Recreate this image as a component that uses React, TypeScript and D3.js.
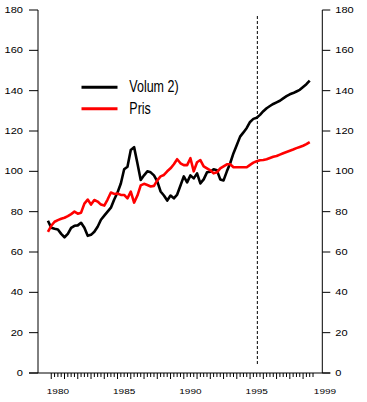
import React from 'react';
import * as d3 from 'd3';

const W = 367;
const H = 402;

// quarterly series, first quarter is 1979 Q4
const firstQuarter = 1979.75;
const volum = [
  75.5, 72, 71.5, 71.2, 69, 67.3, 69, 72, 73, 73.2,
  74.5, 72, 68, 68.5, 70, 72.5, 76, 78, 80, 82,
  86, 89.5, 94, 101, 102.3, 110.6, 112, 104, 95.7, 98,
  100, 99.5, 98, 95, 90, 88, 85.5, 88, 86.6, 88.5,
  93, 97.5, 94.5, 98, 96.5, 99, 94, 96, 99.5, 99.8,
  101, 100.5, 96, 95.5, 100, 104, 109, 113, 117.2, 119.3,
  121.5, 124.5, 126, 126.6, 128, 129.8, 131.3, 132.4, 133.4, 134.2,
  135, 136.2, 137.3, 138.2, 138.8, 139.6, 140.4, 141.8, 143.2, 145,
];
const pris = [
  70, 73, 75, 75.8, 76.5, 77, 77.8, 78.8, 80, 79,
  79.5, 84, 86, 83.5, 85.8, 85, 83.5, 83, 86, 89.5,
  88.8, 89, 88.3, 88.3, 86.6, 89.9, 84.5, 88, 93, 93.8,
  93.2, 92.5, 92.8, 95.5, 97.5, 98.2, 100, 101.5, 103.5, 106,
  104, 103.1, 103.1, 106.5, 100, 104.5, 105.6, 102.5, 101.5, 100.5,
  99, 99.5, 101.5, 102.5, 103.5, 103.5, 102, 102, 102, 102,
  102, 103.2, 104.3, 105, 105.5, 105.6, 106, 106.6, 107.2, 107.6,
  108.3, 109, 109.6, 110.2, 110.8, 111.5, 112.1, 112.7, 113.5, 114.5,
];

const yTicks = [0, 20, 40, 60, 80, 100, 120, 140, 160, 180];
const xLabels = ['1980', '1985', '1990', '1995', '1999'];
const xLabelAt = [1980.5, 1985.5, 1990.5, 1995.5, 2000.65];
const tickYears = d3.range(1980, 2000, 0.25);
const forecastFrom = 1995.55;

const seriesList = [
  { name: 'Volum 2)', color: '#000000', values: volum },
  { name: 'Pris', color: '#ff0000', values: pris },
];

const font = '"Liberation Sans", Arial, Helvetica, sans-serif';

export default function App() {
  const left = 38;
  const right = 322.3;
  const top = 10;
  const bottom = 373;

  const x = d3.scaleLinear().domain([1979, 2000.45]).range([left, right]);
  const y = d3.scaleLinear().domain([0, 180]).range([bottom, top]);

  const line = d3
    .line<number>()
    .x((d, i) => x(firstQuarter + i * 0.25))
    .y((d) => y(d));

  return (
    <svg
      width={W}
      height={H}
      style={{ position: 'absolute', left: 0, top: 0, background: '#fff' }}
    >
      {/* axes */}
      <line x1={left} x2={left} y1={top} y2={bottom} stroke="#000" />
      <line x1={right} x2={right} y1={top} y2={bottom} stroke="#000" />
      <line x1={left - 9} x2={right + 8} y1={bottom} y2={bottom} stroke="#000" />

      {yTicks.map((t) => (
        <g key={t}>
          <line x1={left - 9} x2={left} y1={y(t)} y2={y(t)} stroke="#000" />
          <line x1={right} x2={right + 8} y1={y(t)} y2={y(t)} stroke="#000" />
          <text
            transform={`translate(${left - 15},${y(t) + 3}) scale(1.3,1)`}
            textAnchor="end"
            fontFamily={font}
            fontSize={8.5}
          >
            {t}
          </text>
          <text
            transform={`translate(${right + 13},${y(t) + 3}) scale(1.3,1)`}
            textAnchor="start"
            fontFamily={font}
            fontSize={8.5}
          >
            {t}
          </text>
        </g>
      ))}

      {tickYears.map((t) => (
        <line
          key={t}
          x1={x(t)}
          x2={x(t)}
          y1={bottom}
          y2={bottom + (Number.isInteger(t) ? 6 : 4)}
          stroke="#000"
        />
      ))}
      {xLabels.map((lab, i) => (
        <text
          key={lab}
          transform={`translate(${x(xLabelAt[i])},${bottom + 20.5}) scale(1.25,1)`}
          textAnchor="middle"
          fontFamily={font}
          fontSize={8}
        >
          {lab}
        </text>
      ))}

      {/* forecast marker */}
      <line
        x1={x(forecastFrom)}
        x2={x(forecastFrom)}
        y1={16}
        y2={366}
        stroke="#000"
        strokeDasharray="3,2"
      />

      {seriesList.map((s) => (
        <path
          key={s.name}
          d={line(s.values) || ''}
          fill="none"
          stroke={s.color}
          strokeWidth={2.6}
          strokeLinejoin="round"
        />
      ))}

      {/* legend */}
      {seriesList.map((s, i) => {
        const ly = 87.3 + i * 21.4;
        return (
          <g key={s.name}>
            <line x1={81.5} x2={117.5} y1={ly} y2={ly} stroke={s.color} strokeWidth={3} />
            <text
              transform={`translate(129.3,${ly + 5}) scale(1,1.3)`}
              fontFamily={font}
              fontSize={12.5}
            >
              {s.name}
            </text>
          </g>
        );
      })}
    </svg>
  );
}
